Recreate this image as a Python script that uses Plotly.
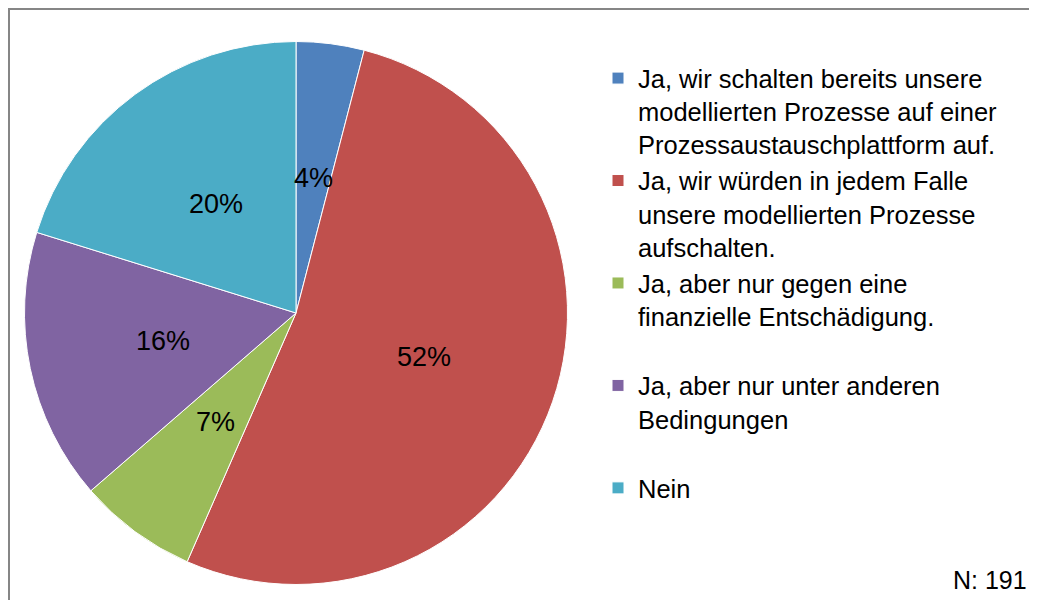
import math
import plotly.graph_objects as go

# answers (legend text, with the line breaks of the original)
labels = [
    "Ja, wir schalten bereits unsere<br>modellierten Prozesse auf einer<br>Prozessaustauschplattform auf.",
    "Ja, wir würden in jedem Falle<br>unsere modellierten Prozesse<br>aufschalten.",
    "Ja, aber nur gegen eine<br>finanzielle Entschädigung.<br> ",
    "Ja, aber nur unter anderen<br>Bedingungen<br> ",
    "Nein<br> <br> ",
]
shares = [4, 52, 7, 16, 20]  # percent of respondents
colors = ["#4F81BD", "#C0504D", "#9BBB59", "#8064A2", "#4BACC6"]
n_note = "N: 191"

W, H = 1037, 600
OFF = 8  # page body margin shifts the plot by 8px
font = "Liberation Sans, Arial, sans-serif"

# pie box in pixels (page coords)
cx, cy, R = 296 - OFF, 313 - OFF, 271.5
dom_x = [(cx - R) / W, (cx + R) / W]
dom_y = [1 - (cy + R) / H, 1 - (cy - R) / H]

fig = go.Figure(go.Pie(
    labels=labels,
    values=shares,
    sort=False,
    direction="clockwise",
    rotation=0,
    marker=dict(colors=colors, line=dict(color="white", width=1)),
    textinfo="none",
    hoverinfo="label+percent",
    domain=dict(x=dom_x, y=dom_y),
))

# data labels at half radius on the middle of each slice
total = sum(shares)
annotations = []
cum = 0
for v in shares:
    ang = 2 * math.pi * (cum + v / 2) / total
    cum += v
    px = cx + 0.5 * R * math.sin(ang)
    py = cy - 0.5 * R * math.cos(ang)
    annotations.append(dict(text=f"{v}%", xref="paper", yref="paper",
                            x=px / W, y=1 - py / H, xanchor="center", yanchor="middle",
                            showarrow=False,
                            font=dict(family=font, size=27, color="black")))

annotations.append(dict(text=n_note, xref="paper", yref="paper",
                        x=(1029 - OFF) / W, y=1 - (580 - OFF) / H,
                        xanchor="right", yanchor="middle", showarrow=False,
                        font=dict(family=font, size=25)))

fig.update_layout(
    width=W, height=H,
    margin=dict(l=0, r=0, t=0, b=0),
    paper_bgcolor="white",
    font=dict(family=font, size=25, color="black"),
    legend=dict(x=(598 - OFF) / W, y=1 - (55 - OFF) / H, xanchor="left", yanchor="top",
                valign="top", itemwidth=30, tracegroupgap=0,
                font=dict(family=font, size=25.5)),
    shapes=[dict(type="rect", xref="paper", yref="paper",
                 x0=1 / W, x1=1.02, y0=-0.02, y1=1 - 1 / H,
                 line=dict(color="#868686", width=2))],
    annotations=annotations,
)

fig.write_html("out.html")
